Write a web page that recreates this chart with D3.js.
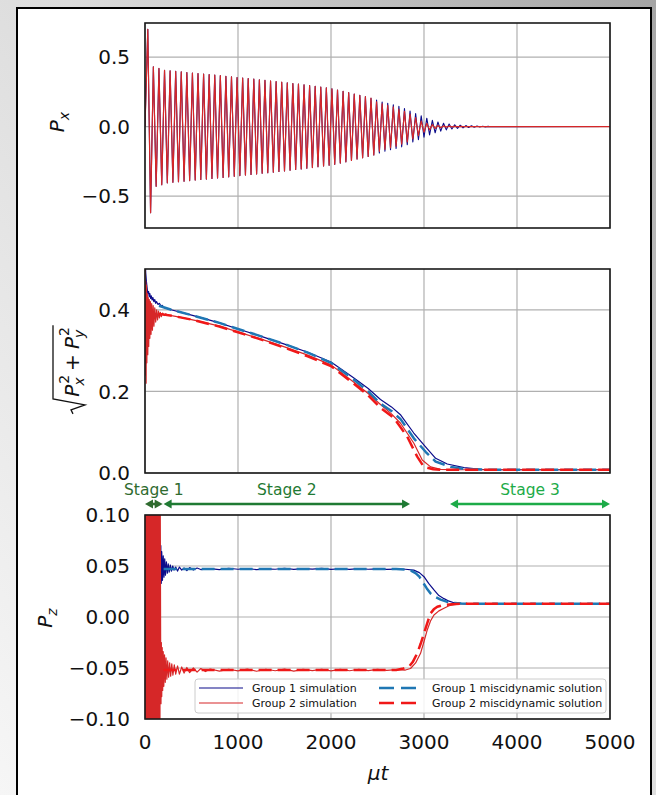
<!DOCTYPE html>
<html>
<head>
<meta charset="utf-8">
<script src="https://cdn.jsdelivr.net/npm/d3@7"></script>
<style>
  body { margin: 0; background: #fff; }
  svg { display: block; }
  text { font-family: "DejaVu Sans", sans-serif; fill: #111; }
</style>
</head>
<body>
<script>
// ---- data ----
var xTicks = [0, 1000, 2000, 3000, 4000, 5000];
var pxTicks = [-0.5, 0.0, 0.5];
var perpTicks = [0.0, 0.2, 0.4];
var pzTicks = [-0.10, -0.05, 0.00, 0.05, 0.10];

var stageNames = ["Stage 1", "Stage 2", "Stage 3"];
var stageFrom = [0, 200, 3280];
var stageTo = [190, 2850, 5000];

var legendLabels = ["Group 1 simulation", "Group 2 simulation",
                    "Group 1 miscidynamic solution", "Group 2 miscidynamic solution"];

// Px: one peak height per oscillation cycle (period in mu t)
var pxPeriod = 60;
var pxFirstLow = 0.62;
var pxAmpShared = [0.70, 0.43, 0.418, 0.405, 0.401, 0.397, 0.393, 0.389, 0.385, 0.381, 0.378,
  0.374, 0.37, 0.366, 0.362, 0.358, 0.353, 0.349, 0.345, 0.341, 0.336, 0.332, 0.328, 0.323, 0.319,
  0.314, 0.309, 0.305, 0.3, 0.295, 0.289, 0.284, 0.278, 0.272, 0.263, 0.254, 0.244, 0.234, 0.225,
  0.215, 0.204];
var pxTailG1 = [0.19, 0.177, 0.167, 0.157, 0.146, 0.13, 0.111, 0.094, 0.077, 0.06, 0.045, 0.033,
  0.024, 0.018, 0.013, 0.0095, 0.007, 0.005, 0.0035, 0.0022, 0.0012, 0.0005];
var pxTailG2 = [0.178, 0.164, 0.153, 0.141, 0.126, 0.11, 0.089, 0.065, 0.04, 0.024, 0.014, 0.008,
  0.0045, 0.0025, 0.0012, 0.0005];

// sqrt(Px^2 + Py^2): [mu t, value]
var perpG1Sim = [[0,0.53],[8,0.49],[15,0.47],[22,0.455],[30,0.44],[38,0.445],[45,0.432],[52,0.44],
  [60,0.428],[68,0.434],[76,0.424],[85,0.43],[95,0.42],[105,0.425],[115,0.416],[125,0.42],[140,0.413],
  [155,0.416],[170,0.41],[185,0.411],[200,0.406],[250,0.402],[300,0.399],[400,0.393],[500,0.387],
  [600,0.381],[800,0.368],[1000,0.353],[1250,0.335],[1500,0.316],[1750,0.296],[2000,0.272],
  [2250,0.232],[2400,0.207],[2532,0.18],[2650,0.162],[2750,0.142],[2890,0.098],[3017,0.064],
  [3125,0.036],[3250,0.022],[3430,0.013],[3610,0.009],[3800,0.008],[5000,0.008]];
var perpG2Sim = [[0,0.5],[4,0.24],[8,0.47],[12,0.22],[16,0.46],[20,0.27],[25,0.44],[30,0.29],
  [35,0.43],[40,0.31],[46,0.425],[52,0.33],[58,0.42],[65,0.34],[72,0.415],[80,0.35],[88,0.41],
  [96,0.36],[105,0.405],[115,0.37],[125,0.4],[135,0.375],[145,0.397],[155,0.38],[165,0.394],
  [175,0.383],[190,0.392],[205,0.386],[220,0.39],[250,0.387],[300,0.385],[400,0.381],[500,0.376],
  [600,0.371],[800,0.36],[1000,0.346],[1250,0.328],[1500,0.309],[1750,0.289],[2000,0.265],
  [2250,0.222],[2400,0.195],[2532,0.168],[2650,0.145],[2748,0.122],[2891,0.073],[2981,0.032],
  [3071,0.015],[3180,0.009],[3300,0.008],[5000,0.008]];
var perpG1Sol = [[150,0.41],[300,0.399],[500,0.387],[800,0.368],[1000,0.353],[1250,0.335],
  [1500,0.316],[1750,0.295],[2000,0.27],[2250,0.228],[2400,0.2],[2532,0.17],[2650,0.152],
  [2748,0.132],[2891,0.085],[3017,0.052],[3125,0.028],[3287,0.015],[3466,0.009],[3700,0.008],[5000,0.008]];
var perpG2Sol = [[150,0.39],[300,0.385],[500,0.376],[800,0.359],[1000,0.345],[1250,0.327],
  [1500,0.307],[1750,0.286],[2000,0.262],[2250,0.218],[2400,0.19],[2532,0.16],[2676,0.135],
  [2820,0.089],[2927,0.04],[2999,0.015],[3100,0.009],[3200,0.008],[5000,0.008]];

// Pz: [mu t, value]
var pzG1Sim = [[0,0],[4,0.16],[8,-0.12],[12,0.17],[16,-0.1],[20,0.16],[24,-0.06],[28,0.15],[32,-0.03],
  [36,0.14],[40,-0.01],[44,0.13],[48,0],[52,0.125],[56,0.01],[60,0.12],[64,0.005],[68,0.115],
  [72,0.01],[76,0.11],[80,0.015],[84,0.11],[88,0.01],[92,0.105],[96,0.02],[100,0.1],[105,0.015],
  [110,0.102],[115,0.02],[120,0.095],[125,0.025],[130,0.09],[135,0.017],[140,0.085],[145,0.03],
  [150,0.08],[155,0.02],[160,0.075],[165,0.03],[170,0.07],[175,0.033],[180,0.064],[188,0.036],
  [196,0.06],[204,0.039],[212,0.057],[220,0.041],[230,0.054],[240,0.043],[250,0.052],[260,0.044],
  [272,0.051],[284,0.045],[298,0.05],[312,0.046],[330,0.049],[350,0.045],[370,0.049],[395,0.046],
  [420,0.048],[450,0.0455],[480,0.0485],[520,0.046],[560,0.048],[600,0.0465],[700,0.0475],
  [800,0.0465],[900,0.0478],[1000,0.0468],[1100,0.0475],[1200,0.0465],[1300,0.0472],[1400,0.0468],
  [1500,0.0478],[1600,0.0466],[1700,0.0474],[1800,0.0469],[1900,0.0476],[2000,0.0467],[2100,0.0473],
  [2200,0.0466],[2300,0.0474],[2400,0.0468],[2500,0.0472],[2600,0.0467],[2700,0.047],[2800,0.0468],
  [2890,0.046],[2950,0.0435],[3000,0.0395],[3050,0.033],[3107,0.0265],[3160,0.021],[3215,0.018],
  [3270,0.0155],[3322,0.014],[3400,0.0133],[3500,0.013],[5000,0.013]];
var pzG2Sim = [[0,0],[4,0.2],[8,-0.2],[12,0.2],[16,-0.2],[20,0.2],[24,-0.2],[28,0.2],[32,-0.2],
  [36,0.2],[40,-0.2],[44,0.2],[48,-0.2],[52,0.2],[56,-0.2],[60,0.2],[64,-0.2],[68,0.2],[72,-0.2],
  [76,0.2],[80,-0.2],[84,0.2],[88,-0.2],[92,0.2],[96,-0.2],[100,0.2],[104,-0.2],[108,0.2],[112,-0.2],
  [116,0.2],[120,-0.2],[124,0.2],[128,-0.2],[132,0.2],[136,-0.2],[140,0.2],[144,-0.2],[148,0.18],
  [152,-0.2],[156,0.15],[160,-0.18],[164,0.11],[168,-0.02],[172,-0.085],[176,-0.025],[180,-0.078],
  [185,-0.03],[190,-0.072],[196,-0.034],[202,-0.068],[210,-0.037],[218,-0.064],[226,-0.04],
  [235,-0.061],[244,-0.043],[254,-0.059],[265,-0.045],[276,-0.058],[288,-0.046],[300,-0.057],
  [315,-0.047],[330,-0.056],[350,-0.048],[370,-0.056],[395,-0.049],[420,-0.055],[450,-0.0495],
  [480,-0.0545],[520,-0.05],[560,-0.054],[600,-0.0505],[650,-0.0535],[700,-0.051],[800,-0.053],
  [900,-0.0512],[1000,-0.0528],[1100,-0.051],[1200,-0.0532],[1300,-0.0512],[1400,-0.0527],
  [1500,-0.0511],[1600,-0.053],[1700,-0.0513],[1800,-0.0526],[1900,-0.0512],[2000,-0.0529],
  [2100,-0.0514],[2200,-0.0527],[2300,-0.0512],[2400,-0.0526],[2500,-0.0514],[2600,-0.0524],
  [2700,-0.0515],[2800,-0.052],[2855,-0.0505],[2910,-0.045],[2963,-0.0356],[3000,-0.024],
  [3035,-0.0127],[3070,-0.004],[3107,0.002],[3160,0.006],[3215,0.0085],[3270,0.011],[3322,0.012],
  [3400,0.0128],[3500,0.013],[5000,0.013]];
var pzG1Sol = [[200,0.047],[2700,0.047],[2800,0.0465],[2860,0.0455],[2909,0.043],[2950,0.0395],
  [2981,0.035],[3030,0.028],[3071,0.023],[3125,0.0195],[3179,0.017],[3250,0.0148],[3300,0.014],
  [3400,0.0133],[3500,0.013],[5000,0.013]];
var pzG2Sol = [[200,-0.052],[2700,-0.052],[2780,-0.0505],[2837,-0.0487],[2880,-0.044],[2927,-0.0356],
  [2965,-0.026],[3000,-0.016],[3035,-0.006],[3071,0.0036],[3105,0.0075],[3143,0.01],[3200,0.0115],
  [3300,0.0125],[3400,0.013],[5000,0.013]];

// ---- layout ----
var width = 656, height = 795;
var left = 145, right = 610;
var colG1 = "#0b0b8a", colG2 = "#d62728", colG1Sol = "#1f77b4", colG2Sol = "#f01818";
var stageColors = ["#2f6b2f", "#1f7a33", "#1dab48"];

var svg = d3.select("body").append("svg")
    .attr("width", width)
    .attr("height", height);

var defs = svg.append("defs");
var grad = defs.append("linearGradient").attr("id", "bg")
    .attr("x1", 0).attr("y1", 1).attr("x2", 1).attr("y2", 0);
grad.append("stop").attr("offset", 0).attr("stop-color", "#f6f6f6");
grad.append("stop").attr("offset", 0.55).attr("stop-color", "#dcdcdc");
grad.append("stop").attr("offset", 1).attr("stop-color", "#a4a4a4");

svg.append("rect").attr("width", width).attr("height", height).attr("fill", "url(#bg)");
svg.append("rect")
    .attr("x", 17).attr("y", 8).attr("width", 634).attr("height", 800)
    .attr("fill", "#fff").attr("stroke", "#000").attr("stroke-width", 2);

var x = d3.scaleLinear().domain([0, 5000]).range([left, right]);

// Px zigzag: one up and one down vertex per cycle
function zigzag(amps) {
  var pts = [[0, 0]];
  amps.forEach(function(a, k) {
    pts.push([pxPeriod / 2 + k * pxPeriod, a]);
    pts.push([pxPeriod + k * pxPeriod, k === 0 ? -pxFirstLow : -a]);
  });
  pts.push([5000, 0]);
  return pts;
}

var panels = [
  { top: 23, bottom: 228, domain: [-0.73, 0.745], ticks: pxTicks, fmt: d3.format(".1f"),
    series: [
      { data: zigzag(pxAmpShared.concat(pxTailG1)), color: colG1, w: 1.1 },
      { data: zigzag(pxAmpShared.concat(pxTailG2)), color: colG2, w: 1.2 }
    ] },
  { top: 269, bottom: 473, domain: [0, 0.5], ticks: perpTicks, fmt: d3.format(".1f"),
    series: [
      { data: perpG1Sim, color: colG1, w: 1.2 },
      { data: perpG2Sim, color: colG2, w: 1.2 },
      { data: perpG1Sol, color: colG1Sol, w: 2.5, dash: "13,6" },
      { data: perpG2Sol, color: colG2Sol, w: 2.5, dash: "13,6" }
    ] },
  { top: 515, bottom: 719, domain: [-0.1, 0.1], ticks: pzTicks, fmt: d3.format(".2f"),
    series: [
      { data: pzG1Sim, color: colG1, w: 1.2 },
      { data: pzG2Sim, color: colG2, w: 1.2 },
      { data: pzG1Sol, color: colG1Sol, w: 2.5, dash: "13,6" },
      { data: pzG2Sol, color: colG2Sol, w: 2.5, dash: "13,6" }
    ] }
];

panels.forEach(function(p, i) {
  var y = d3.scaleLinear().domain(p.domain).range([p.bottom, p.top]);
  var g = svg.append("g");

  defs.append("clipPath").attr("id", "clip" + i)
    .append("rect").attr("x", left).attr("y", p.top)
    .attr("width", right - left).attr("height", p.bottom - p.top);

  // grid
  g.selectAll(".vg").data(xTicks).enter().append("line")
      .attr("x1", function(d) { return x(d); }).attr("x2", function(d) { return x(d); })
      .attr("y1", p.top).attr("y2", p.bottom)
      .attr("stroke", "#b0b0b0").attr("stroke-width", 1.2);
  g.selectAll(".hg").data(p.ticks).enter().append("line")
      .attr("x1", left).attr("x2", right)
      .attr("y1", function(d) { return y(d); }).attr("y2", function(d) { return y(d); })
      .attr("stroke", "#b0b0b0").attr("stroke-width", 1.2);

  // y tick labels
  g.selectAll(".yl").data(p.ticks).enter().append("text")
      .attr("x", 130).attr("y", function(d) { return y(d); })
      .attr("dy", "0.36em").attr("text-anchor", "end")
      .attr("font-size", 20)
      .text(function(d) { return p.fmt(d); });

  var line = d3.line()
      .x(function(d) { return x(d[0]); })
      .y(function(d) { return y(d[1]); });

  var lines = g.append("g").attr("clip-path", "url(#clip" + i + ")");
  p.series.forEach(function(s) {
    lines.append("path")
        .attr("d", line(s.data))
        .attr("fill", "none")
        .attr("stroke", s.color)
        .attr("stroke-width", s.w)
        .attr("stroke-dasharray", s.dash || null)
        .attr("stroke-linejoin", "round");
  });

  g.append("rect")
      .attr("x", left).attr("y", p.top)
      .attr("width", right - left).attr("height", p.bottom - p.top)
      .attr("fill", "none").attr("stroke", "#1a1a1a").attr("stroke-width", 1.6);
});

// x tick labels on the bottom panel only
svg.selectAll(".xl").data(xTicks).enter().append("text")
    .attr("x", function(d) { return x(d); }).attr("y", 749)
    .attr("text-anchor", "middle").attr("font-size", 20)
    .text(function(d) { return d; });

svg.append("text")
    .attr("x", 378).attr("y", 780)
    .attr("text-anchor", "middle").attr("font-size", 20).attr("font-style", "italic")
    .text("\u03bct");

// y axis labels
function symLabel(tx, ty, sub) {
  var t = svg.append("text")
      .attr("transform", "translate(" + tx + "," + ty + ") rotate(-90)")
      .attr("text-anchor", "middle").attr("font-size", 20).attr("font-style", "italic");
  t.append("tspan").text("P");
  t.append("tspan").attr("font-size", 14).attr("dy", 5).text(sub);
}
symLabel(64, 122, "x");
symLabel(52, 618, "z");

// sqrt(Px^2 + Py^2)
var lab = svg.append("g");
function put(str, px, py, size, italic) {
  var t = lab.append("text").attr("x", px).attr("y", py)
      .attr("font-size", size).attr("font-style", italic ? "italic" : "normal").text(str);
  return t.node().getComputedTextLength();
}
var cur = 18, fs = 20, ss = 14;
var w = put("P", cur, 0, fs, true);
var w1 = put("2", cur + w + 1, -10, ss, false);
var w2 = put("x", cur + w - 1, 5, ss, true);
cur += w + Math.max(w1, w2) + 5;
w = put("+", cur, 0, fs, false);
cur += w + 5;
w = put("P", cur, 0, fs, true);
w1 = put("2", cur + w + 1, -10, ss, false);
w2 = put("y", cur + w - 1, 5, ss, true);
cur += w + Math.max(w1, w2) + 3;
lab.append("path")
    .attr("d", "M1,-6 L5,-8 L10,6 L16,-26 L" + cur + ",-26")
    .attr("fill", "none").attr("stroke", "#111").attr("stroke-width", 1.3);
lab.attr("transform", "translate(79," + (370 + cur / 2) + ") rotate(-90)");

// stage arrows
var arrowY = 504;
stageNames.forEach(function(name, i) {
  var x0 = x(stageFrom[i]), x1 = x(stageTo[i]), c = stageColors[i];
  var g = svg.append("g");
  g.append("line").attr("x1", x0 + 4).attr("x2", x1 - 4)
      .attr("y1", arrowY).attr("y2", arrowY)
      .attr("stroke", c).attr("stroke-width", 2.6);
  g.append("path")
      .attr("d", "M" + x0 + "," + arrowY + " l8,-4.5 l0,9 Z")
      .attr("fill", c);
  g.append("path")
      .attr("d", "M" + x1 + "," + arrowY + " l-8,-4.5 l0,9 Z")
      .attr("fill", c);
  svg.append("text")
      .attr("x", (x0 + x1) / 2).attr("y", 495)
      .attr("text-anchor", "middle").attr("font-size", 15.5)
      .style("fill", c)
      .text(name);
});

// legend
var leg = svg.append("g");
leg.append("rect")
    .attr("x", 195).attr("y", 679).attr("width", 411).attr("height", 34).attr("rx", 3)
    .attr("fill", "#fff").attr("fill-opacity", 0.85)
    .attr("stroke", "#cccccc").attr("stroke-width", 1);
var legItems = [
  { col: 0, row: 0, color: colG1, w: 1.2 },
  { col: 0, row: 1, color: colG2, w: 1.2 },
  { col: 1, row: 0, color: colG1Sol, w: 2.5, dash: "15,7" },
  { col: 1, row: 1, color: colG2Sol, w: 2.5, dash: "15,7" }
];
var colX = [199, 379], colW = [44, 41], textX = [252, 432], rowY = [688, 703];
legItems.forEach(function(it, i) {
  var lx = colX[it.col], ly = rowY[it.row];
  leg.append("line")
      .attr("x1", lx).attr("x2", lx + colW[it.col])
      .attr("y1", ly).attr("y2", ly)
      .attr("stroke", it.color).attr("stroke-width", it.w)
      .attr("stroke-dasharray", it.dash || null);
  leg.append("text")
      .attr("x", textX[it.col]).attr("y", ly + 4)
      .attr("font-size", 11)
      .text(legendLabels[i]);
});
</script>
</body>
</html>
